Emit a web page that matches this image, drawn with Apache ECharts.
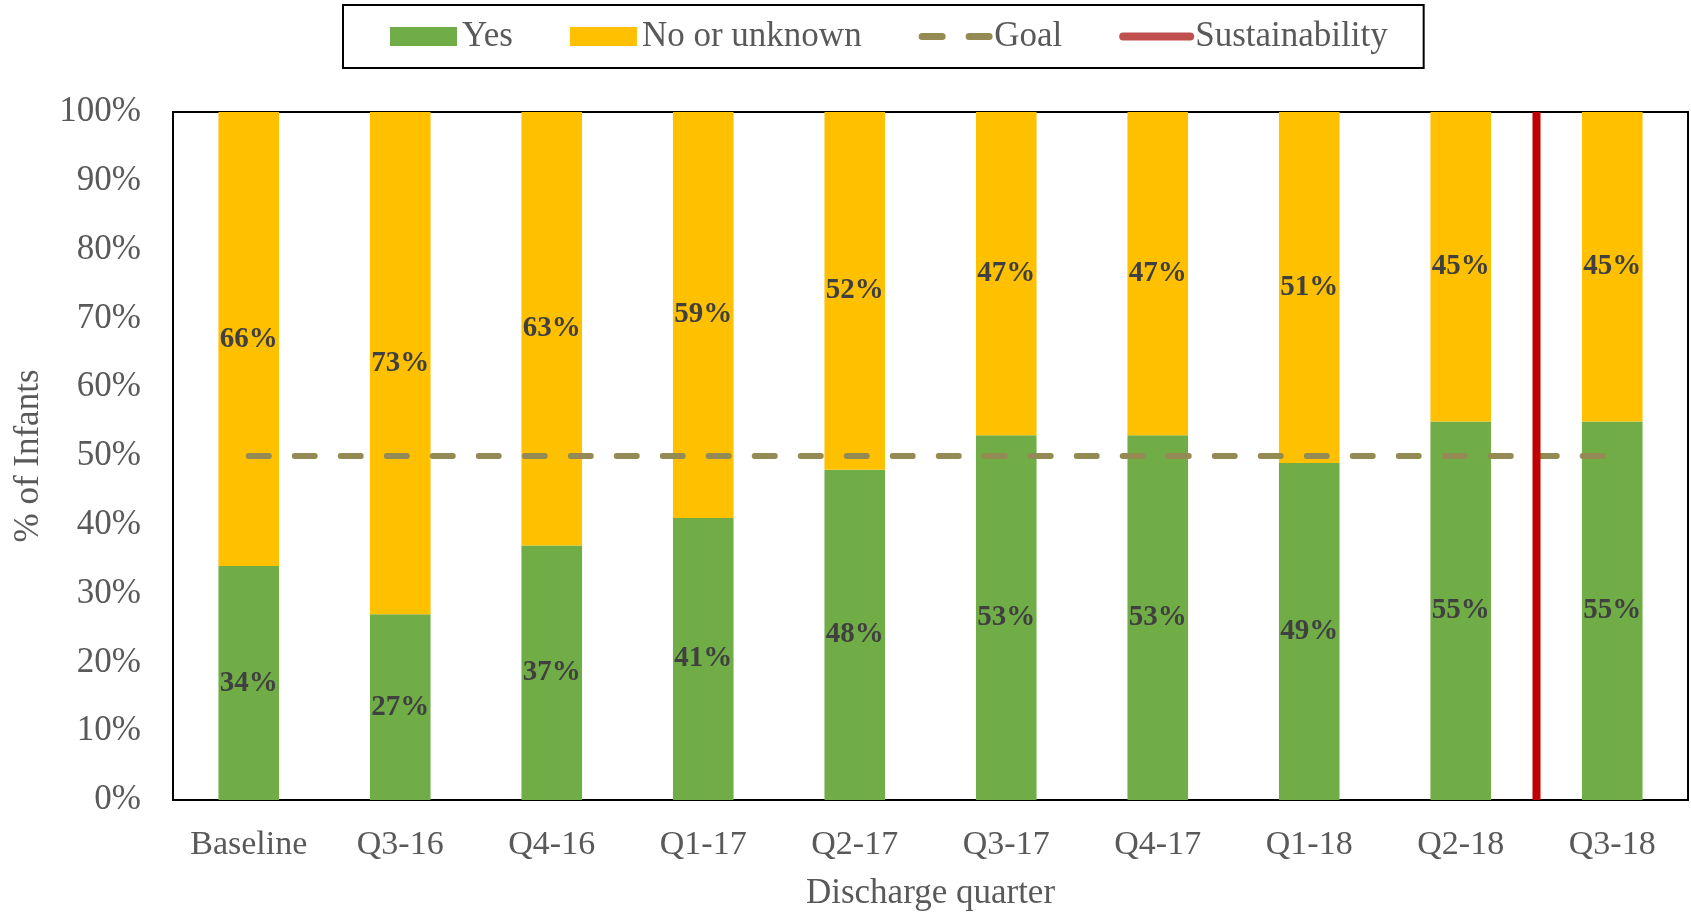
<!DOCTYPE html>
<html>
<head>
<meta charset="utf-8">
<script src="https://cdn.jsdelivr.net/npm/echarts@6/dist/echarts.min.js"></script>
<style>
html,body{margin:0;padding:0;background:#fff;}
#chart{width:1691px;height:916px;}
</style>
</head>
<body>
<div id="chart"></div>
<script>
const categories = ['Baseline','Q3-16','Q4-16','Q1-17','Q2-17','Q3-17','Q4-17','Q1-18','Q2-18','Q3-18'];
const yesValues = [34,27,37,41,48,53,53,49,55,55];
const noValues = [66,73,63,59,52,47,47,51,45,45];
const goalValues = [50,50,50,50,50,50,50,50,50,50];
const sustainabilityAt = 9; // boundary before the 10th category
const yTicks = [0,10,20,30,40,50,60,70,80,90,100];

const FONT = 'Liberation Serif';
const GRAY = '#595959';

const chart = echarts.init(document.getElementById('chart'));
chart.setOption({
  animation: false,
  backgroundColor: '#fff',
  textStyle: {fontFamily: FONT},
  legend: {
    left: 343,
    top: 5,
    padding: [14, 36, 14, 47],
    itemGap: 57,
    itemWidth: 67,
    itemHeight: 19,
    borderColor: '#000',
    borderWidth: 2,
    textStyle: {fontFamily: FONT, fontSize: 35, color: GRAY},
    data: [
      {name: 'Yes', icon: 'rect'},
      {name: 'No or unknown', icon: 'rect'},
      {name: 'Goal', itemStyle: {opacity: 0},
        lineStyle: {color: '#948A54', width: 7, type: [20, 27], cap: 'round'}},
      {name: 'Sustainability', itemStyle: {opacity: 0},
        lineStyle: {color: '#C0504D', width: 8, cap: 'round'}}
    ]
  },
  grid: {
    left: 173, right: 3, top: 112, bottom: 115,
    show: true, borderColor: '#000', borderWidth: 2,
    containLabel: false
  },
  xAxis: [{
    type: 'category',
    data: categories,
    axisLine: {show: true, lineStyle: {color: '#000', width: 2}},
    axisTick: {show: false},
    axisLabel: {fontFamily: FONT, fontSize: 34, color: GRAY, margin: 28, interval: 0},
    name: 'Discharge quarter',
    nameLocation: 'middle',
    nameGap: 76,
    nameTextStyle: {fontFamily: FONT, fontSize: 35, color: GRAY}
  }, {
    type: 'value', min: 0, max: categories.length, show: false
  }],
  yAxis: {
    type: 'value', min: 0, max: 100, interval: 10,
    axisLine: {show: true, lineStyle: {color: '#000', width: 2}},
    axisTick: {show: false},
    splitLine: {show: false},
    axisLabel: {fontFamily: FONT, fontSize: 35, color: GRAY, margin: 32,
      formatter: v => yTicks.includes(v) ? v + '%' : ''},
    name: '% of Infants',
    nameLocation: 'middle',
    nameGap: 127,
    nameTextStyle: {fontFamily: FONT, fontSize: 35, color: GRAY}
  },
  series: [
    {
      name: 'Yes', type: 'bar', stack: 'total', barWidth: '40%',
      data: yesValues,
      itemStyle: {color: '#70AD47'},
      label: {show: true, position: 'inside', formatter: '{c}%',
        fontFamily: FONT, fontSize: 29, fontWeight: 'bold', color: '#404040'}
    },
    {
      name: 'No or unknown', type: 'bar', stack: 'total', barWidth: '40%',
      data: noValues,
      itemStyle: {color: '#FFC000'},
      label: {show: true, position: 'inside', formatter: '{c}%',
        fontFamily: FONT, fontSize: 29, fontWeight: 'bold', color: '#404040'}
    },
    {
      name: 'Goal', type: 'line', data: goalValues,
      symbol: 'none', z: 5,
      lineStyle: {color: '#948A54', width: 6, type: [20, 26], cap: 'round'},
      itemStyle: {color: '#948A54'}
    },
    {
      name: 'Sustainability', type: 'line', xAxisIndex: 1,
      data: [[sustainabilityAt, 0], [sustainabilityAt, 100]],
      symbol: 'none', z: 6,
      lineStyle: {color: '#C00000', width: 8},
      itemStyle: {color: '#C00000'}
    }
  ]
});
</script>
</body>
</html>
